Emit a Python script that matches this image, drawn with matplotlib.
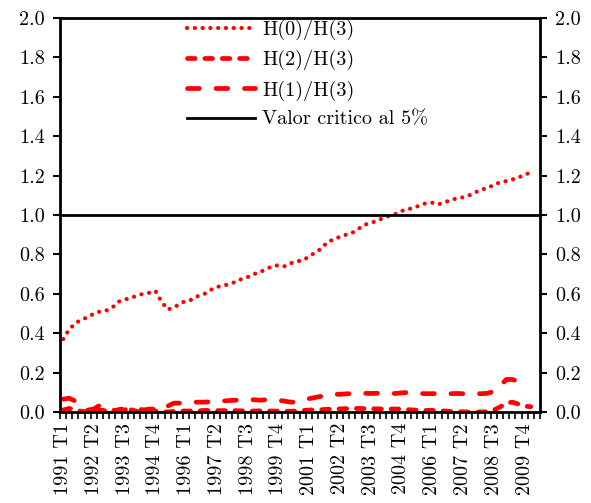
import matplotlib
matplotlib.use("Agg")
import matplotlib.pyplot as plt
import numpy as np

plt.rcParams['font.family'] = 'serif'
plt.rcParams['font.serif'] = ['cmr10']
plt.rcParams['axes.formatter.use_mathtext'] = True
plt.rcParams['lines.scale_dashes'] = False

# quarterly ratios, 1991 T1 onwards
h0_h3 = [0.37, 0.42, 0.45, 0.47, 0.48, 0.50, 0.51, 0.515, 0.53, 0.56,
         0.57, 0.58, 0.59, 0.60, 0.605, 0.615, 0.56, 0.52, 0.53, 0.55,
         0.565, 0.57, 0.59, 0.60, 0.62, 0.635, 0.64, 0.65, 0.66, 0.675,
         0.685, 0.70, 0.71, 0.725, 0.74, 0.745, 0.74, 0.755, 0.765, 0.77,
         0.79, 0.81, 0.83, 0.865, 0.875, 0.89, 0.90, 0.91, 0.93, 0.95,
         0.96, 0.97, 0.985, 0.995, 1.005, 1.02, 1.03, 1.035, 1.05, 1.06,
         1.062, 1.054, 1.065, 1.075, 1.085, 1.09, 1.10, 1.115, 1.13, 1.135,
         1.155, 1.165, 1.172, 1.18, 1.19, 1.205, 1.215]
h2_h3 = [0.01, 0.018, 0.012, 0.003, 0.002, 0.005, 0.01, 0.005, 0.002, 0.012,
         0.018, 0.012, 0.003, 0.0, 0.003, 0.005, 0.002, 0.0, 0.003, 0.005,
         0.005, 0.005, 0.006, 0.008, 0.008, 0.007, 0.007, 0.008, 0.007, 0.006,
         0.006, 0.005, 0.006, 0.006, 0.005, 0.005, 0.004, 0.004, 0.005, 0.008,
         0.01, 0.011, 0.012, 0.014, 0.015, 0.016, 0.017, 0.018, 0.018, 0.017,
         0.017, 0.016, 0.015, 0.015, 0.015, 0.015, 0.012, 0.01, 0.009, 0.008,
         0.008, 0.007, 0.005, 0.003, 0.002, 0.001, 0.0, 0.0, 0.0, 0.002,
         0.01, 0.025, 0.045, 0.05, 0.04, 0.03, 0.027]
h1_h3 = [0.065, 0.07, 0.055, 0.03, 0.01, 0.015, 0.035, 0.03, 0.01, 0.005,
         0.01, 0.025, 0.02, 0.01, 0.015, 0.015, 0.01, 0.03, 0.045, 0.045,
         0.048, 0.05, 0.05, 0.05, 0.052, 0.055, 0.056, 0.058, 0.06, 0.063,
         0.063, 0.062, 0.06, 0.062, 0.062, 0.06, 0.055, 0.05, 0.05, 0.06,
         0.068, 0.074, 0.08, 0.088, 0.09, 0.09, 0.092, 0.094, 0.096, 0.095,
         0.094, 0.095, 0.096, 0.095, 0.094, 0.097, 0.099, 0.097, 0.094, 0.093,
         0.093, 0.094, 0.093, 0.093, 0.094, 0.093, 0.093, 0.093, 0.093, 0.095,
         0.105, 0.13, 0.165, 0.165, 0.155, 0.15, 0.145]
critical = 1.0

n_quarters = 78  # 1991 T1 .. 2010 T2 on the category axis
tick_labels = ["1991 T1", "1992 T2", "1993 T3", "1994 T4", "1996 T1", "1997 T2",
               "1998 T3", "1999 T4", "2001 T1", "2002 T2", "2003 T3", "2004 T4",
               "2006 T1", "2007 T2", "2008 T3", "2009 T4"]

x = np.arange(len(h0_h3))

fig = plt.figure(figsize=(5.91, 5.03), dpi=100)
ax = fig.add_axes([60/591, 1-412/503, 480/591, 394/503])

red = '#ff0000'
ax.plot(x, h0_h3, color=red, lw=3.0, dashes=(0.1, 5.5), dash_capstyle='round',
        label="H(0)/H(3)")
ax.plot(x, h2_h3, color=red, lw=3.4, dashes=(5.5, 7.0), dash_capstyle='round',
        label="H(2)/H(3)")
ax.plot(x, h1_h3, color=red, lw=3.4, dashes=(8.5, 12.0), dash_capstyle='round',
        label="H(1)/H(3)")
ax.axhline(critical, color='black', lw=2.0, label="Valor critico al 5%")

ax.set_xlim(-0.5, n_quarters - 0.5)
ax.set_ylim(0, 2.0)

ax.set_xticks(np.arange(0, 5*len(tick_labels), 5))
ax.set_xticklabels(tick_labels, rotation=90, fontsize=14.5)
ax.set_xticks(np.arange(-0.5, n_quarters, 1), minor=True)
ax.tick_params(axis='x', which='major', length=0, pad=8)
ax.tick_params(axis='x', which='minor', length=5, width=1.2, direction='out')

yt = np.arange(0, 2.01, 0.2)
ax.set_yticks(yt)
ax.set_yticklabels([f"{v:.1f}" for v in yt], fontsize=14.5)
ax.tick_params(axis='y', which='major', length=5, width=1.5, direction='out',
               right=True, labelright=True, pad=6)

for s in ax.spines.values():
    s.set_linewidth(2.0)
    s.set_color('black')

ax.legend(loc='upper left', bbox_to_anchor=(0.26, 1.0), frameon=False,
          fontsize=14.5, handlelength=3.4, handletextpad=0.35,
          labelspacing=0.5, borderpad=0.1, borderaxespad=0)

fig.savefig("out.png", dpi=100)
